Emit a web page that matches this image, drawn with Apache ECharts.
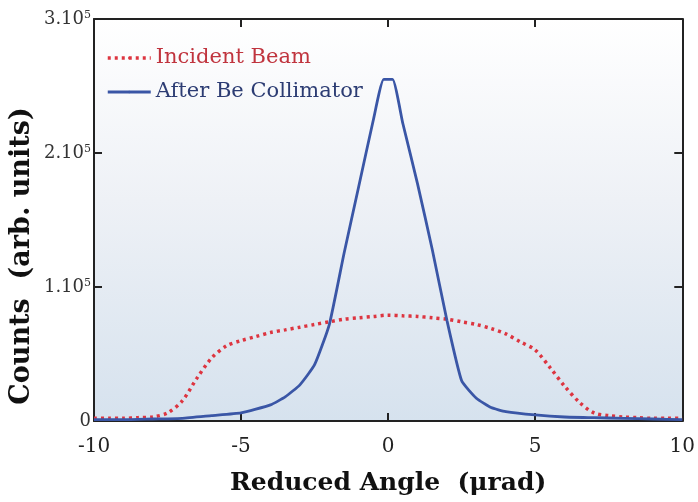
<!DOCTYPE html>
<html>
<head>
<meta charset="utf-8">
<script src="https://cdn.jsdelivr.net/npm/echarts@6/dist/echarts.min.js"></script>
<style>
  html, body { margin: 0; padding: 0; background: #fff; }
  #chart { width: 698px; height: 502px; }
</style>
</head>
<body>
<div id="chart"></div>
<script>
// Incident beam (red dotted)
const incidentAngles = [-10, -9.5, -9, -8.5, -8, -7.5, -7, -6.5, -6, -5.5, -5, -4.5, -4, -3.5, -3, -2.5, -2, -1.5, -1, -0.5,
  0, 0.5, 1, 1.5, 2, 2.5, 3, 3.5, 4, 4.5, 5, 5.5, 6, 6.5, 7, 7.5, 8, 8.5, 9, 9.5, 10];
const incidentCounts = [2000, 2000, 2000, 2500, 3000, 6000, 15000, 32000, 47000, 56000, 60000, 63000, 66000, 68000, 70000, 72000, 74000, 76000, 77000, 78000,
  79000, 78500, 78000, 77000, 76000, 74000, 72000, 69000, 65000, 59000, 53000, 40000, 26000, 14000, 6000, 4000, 3000, 2500, 2000, 2000, 2000];

// After Be collimator (blue solid)
const collimatedAngles = [-10, -9, -8, -7, -6, -5, -4, -3.5, -3, -2.5, -2, -1.5, -1, -0.5, -0.15,
  0.15, 0.5, 1, 1.5, 2, 2.5, 3, 3.5, 4, 5, 6, 7, 8, 9, 10];
const collimatedCounts = [1000, 1000, 1500, 2000, 4000, 6000, 12000, 18000, 27000, 42000, 72000, 125000, 175000, 225000, 255000,
  255000, 222000, 177000, 128000, 75000, 30000, 17000, 10000, 7000, 4500, 3000, 2500, 2000, 1500, 1000];

const xTicks = [-10, -5, 0, 5, 10];
const yTicks = [0, 100000, 200000, 300000];

const serif = '"DejaVu Serif", "Liberation Serif", serif';
const chart = echarts.init(document.getElementById('chart'));

const pairs = (xs, ys) => xs.map((x, i) => [x, ys[i]]);
const frameLine = { show: true, onZero: false, lineStyle: { color: '#222', width: 2 } };
const frameTick = { show: true, inside: true, length: 8, lineStyle: { color: '#222', width: 2 } };

chart.setOption({
  backgroundColor: '#fff',
  animation: false,
  grid: {
    left: 94, right: 14, top: 19, bottom: 81,
    show: true,
    borderWidth: 0,
    backgroundColor: new echarts.graphic.LinearGradient(0, 0, 0, 1, [
      { offset: 0, color: '#ffffff' },
      { offset: 0.45, color: '#eef1f6' },
      { offset: 1, color: '#d6e2ee' }
    ])
  },
  legend: {
    left: 101, top: 41, orient: 'vertical',
    itemWidth: 43, itemHeight: 3, itemGap: 10,
    textStyle: { fontFamily: serif, fontSize: 21, lineHeight: 24 },
    data: [
      { name: 'Incident Beam', textStyle: { color: '#c0343e' }, lineStyle: { width: 3.5 } },
      { name: 'After Be Collimator', textStyle: { color: '#2c3c73' }, lineStyle: { width: 2.8 } }
    ]
  },
  graphic: [{
    type: 'text',
    x: 22, y: 256, rotation: Math.PI / 2,
    style: {
      text: 'Counts  (arb. units)',
      font: 'bold 27px ' + serif,
      fill: '#111',
      align: 'center',
      verticalAlign: 'middle'
    }
  }],
  xAxis: [{
    type: 'value', min: -10, max: 10, interval: 5,
    name: 'Reduced Angle  (\u03bcrad)', nameLocation: 'middle', nameGap: 50,
    nameTextStyle: { fontFamily: serif, fontSize: 25, fontWeight: 'bold', color: '#111' },
    axisLine: frameLine,
    axisTick: frameTick,
    axisLabel: {
      margin: 16, fontFamily: serif, fontSize: 20, color: '#222',
      formatter: v => xTicks.includes(v) ? String(v) : ''
    },
    splitLine: { show: false }
  }, {
    type: 'value', min: -10, max: 10, interval: 5, position: 'top',
    axisLine: frameLine,
    axisTick: frameTick,
    axisLabel: { show: false },
    splitLine: { show: false }
  }],
  yAxis: [{
    type: 'value', min: 0, max: 300000, interval: 100000,
    axisLine: frameLine,
    axisTick: frameTick,
    axisLabel: {
      margin: 3,
      formatter: v => {
        if (!yTicks.includes(v)) return '';
        if (v === 0) return '{b|0}';
        return '{b|' + (v / 100000) + '.10}{s|5}';
      },
      rich: {
        b: { fontFamily: serif, fontSize: 18, color: '#333' },
        s: { fontFamily: serif, fontSize: 11, color: '#333', verticalAlign: 'top', padding: [0, 0, 8, 0] }
      }
    },
    splitLine: { show: false }
  }, {
    type: 'value', min: 0, max: 300000, interval: 100000, position: 'right',
    axisLine: frameLine,
    axisTick: frameTick,
    axisLabel: { show: false },
    splitLine: { show: false }
  }],
  series: [{
    name: 'Incident Beam',
    type: 'line',
    smooth: 0.3,
    symbol: 'none',
    data: pairs(incidentAngles, incidentCounts),
    lineStyle: { color: '#dd3540', width: 3.5, type: [3, 4] },
    itemStyle: { color: '#dd3540' },
    z: 3
  }, {
    name: 'After Be Collimator',
    type: 'line',
    smooth: 0.15,
    symbol: 'none',
    data: pairs(collimatedAngles, collimatedCounts),
    lineStyle: { color: '#3a56a6', width: 2.8 },
    itemStyle: { color: '#3a56a6' },
    z: 4
  }]
});
</script>
</body>
</html>
